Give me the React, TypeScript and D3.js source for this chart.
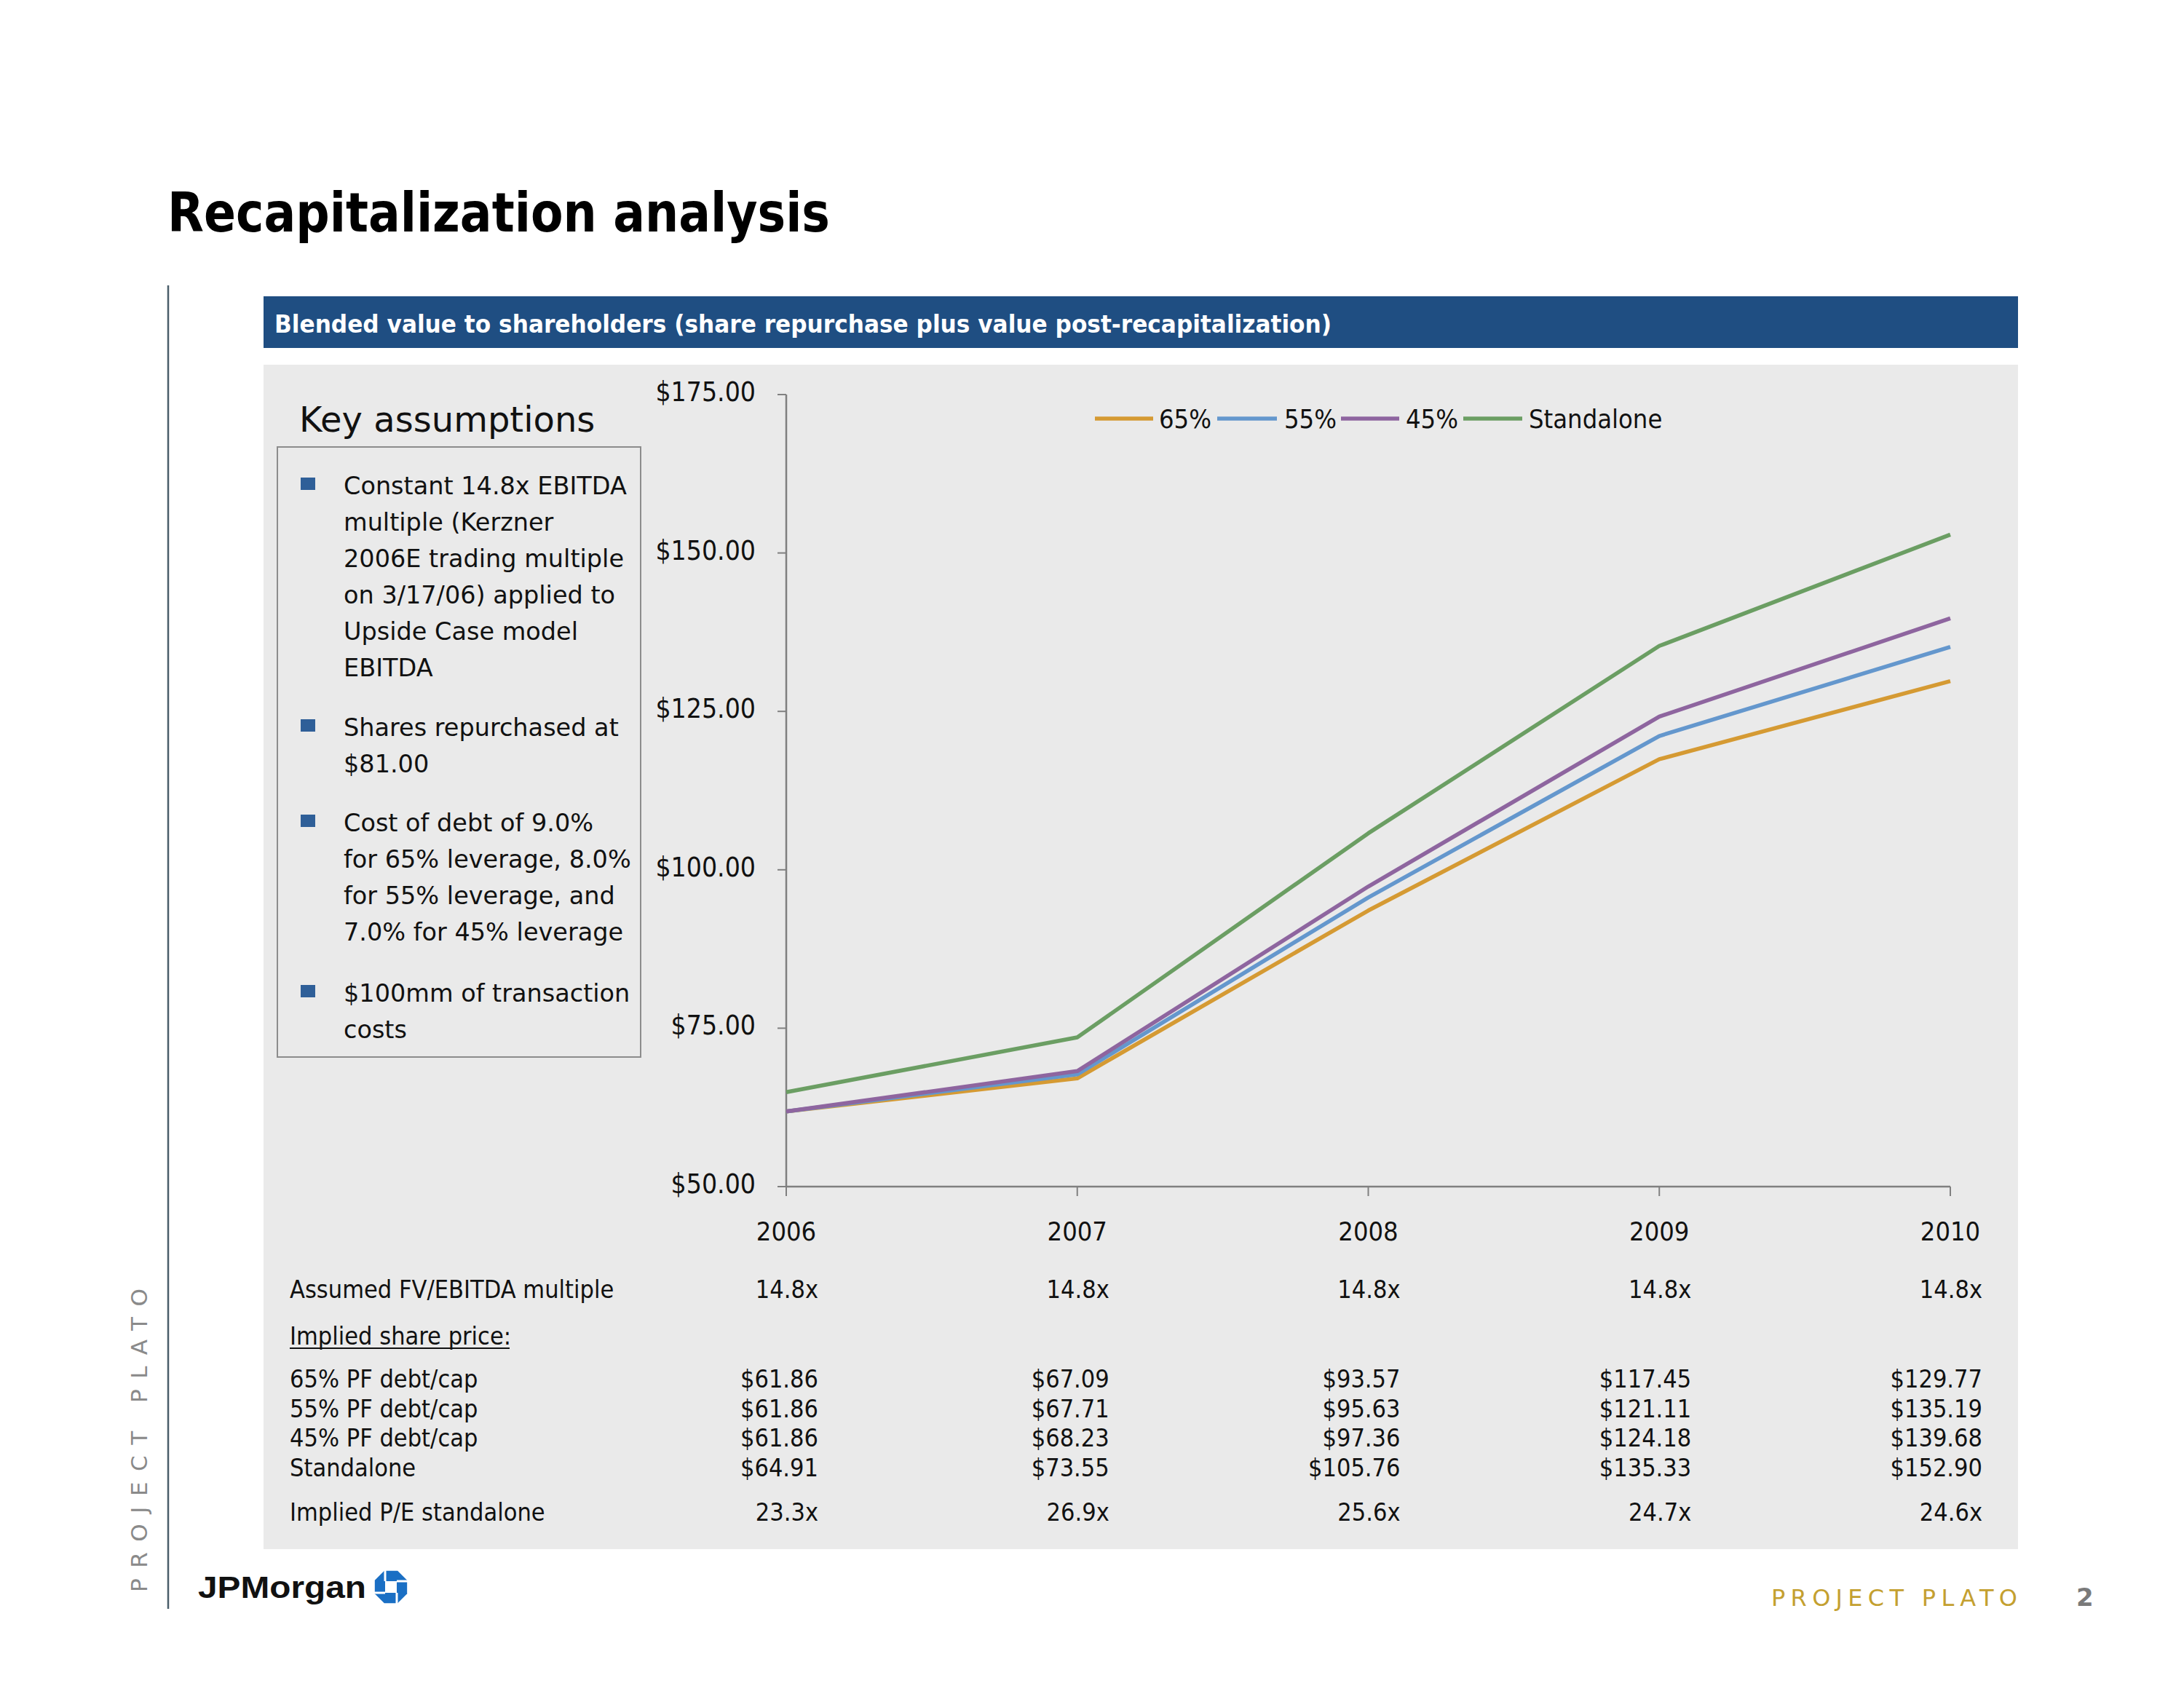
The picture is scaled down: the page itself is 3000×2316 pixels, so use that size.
import React from "react";
import * as d3 from "d3";

// ---------- data ----------
const years = [2006, 2007, 2008, 2009, 2010];
const seriesNames = ["65%", "55%", "45%", "Standalone"];
const values65 = [61.86, 67.09, 93.57, 117.45, 129.77];
const values55 = [61.86, 67.71, 95.63, 121.11, 135.19];
const values45 = [61.86, 68.23, 97.36, 124.18, 139.68];
const valuesStandalone = [64.91, 73.55, 105.76, 135.33, 152.9];
const fvEbitdaMultiples = [14.8, 14.8, 14.8, 14.8, 14.8];
const impliedPE = [23.3, 26.9, 25.6, 24.7, 24.6];
const yTicks = [50, 75, 100, 125, 150, 175];
const rowLabels = ["65% PF debt/cap", "55% PF debt/cap", "45% PF debt/cap", "Standalone"];
const bullets = [
  ["Constant 14.8x EBITDA", "multiple (Kerzner", "2006E trading multiple", "on 3/17/06) applied to", "Upside Case model", "EBITDA"],
  ["Shares repurchased at", "$81.00"],
  ["Cost of debt of 9.0%", "for 65% leverage, 8.0%", "for 55% leverage, and", "7.0% for 45% leverage"],
  ["$100mm of transaction", "costs"],
];

// ---------- styles ----------
const COLORS = ["#D59A33", "#6497CD", "#8E659F", "#6B9E63"];
const COND = "'DejaVu Sans Condensed', 'DejaVu Sans', sans-serif";
const SANS = "'DejaVu Sans', Verdana, sans-serif";
const condStyle: React.CSSProperties = { fontStretch: "condensed" };

export default function App() {
  const x = d3.scaleLinear().domain([2006, 2010]).range([1080, 2679]);
  const y = d3.scaleLinear().domain([50, 175]).range([1630, 542]);
  const line = d3
    .line<[number, number]>()
    .x((d) => x(d[0]))
    .y((d) => y(d[1]));
  const allSeries = [values65, values55, values45, valuesStandalone];
  const fmtDollar = d3.format("$,.2f");
  const fmtX = (v: number) => d3.format(".1f")(v) + "x";

  const bulletStarts = [679, 1011, 1142, 1376];
  const legendLayout = [
    { x1: 1504, x2: 1584, tx: 1592 },
    { x1: 1672, x2: 1754, tx: 1764 },
    { x1: 1842, x2: 1922, tx: 1931 },
    { x1: 2010, x2: 2091, tx: 2100 },
  ];

  const tableRows: { label: string; base: number; vals: string[] }[] = [
    { label: "Assumed FV/EBITDA multiple", base: 1783, vals: fvEbitdaMultiples.map(fmtX) },
    ...rowLabels.map((l, i) => ({
      label: l,
      base: [1906, 1947, 1987, 2028][i],
      vals: allSeries[i].map(fmtDollar),
    })),
    { label: "Implied P/E standalone", base: 2089, vals: impliedPE.map(fmtX) },
  ];

  return (
    <svg
      width={3000}
      height={2316}
      style={{ position: "absolute", left: 0, top: 0, background: "#fff" }}
    >
      <rect x={0} y={0} width={3000} height={2316} fill="#ffffff" />
      {/* title */}
      <text
        x={230}
        y={318}
        fontFamily={COND}
        style={condStyle}
        fontWeight="bold"
        fontSize={74}
        fill="#000"
        textLength={910}
        lengthAdjust="spacingAndGlyphs"
      >
        Recapitalization analysis
      </text>

      {/* left vertical rule and side text */}
      <line x1={231} x2={231} y1={392} y2={2210} stroke="#4A5E6A" strokeWidth={2.5} />
      <text
        transform="translate(202,2187) rotate(-90)"
        fontFamily={SANS}
        fontSize={31}
        fill="#8A8A8A"
        textLength={417}
        lengthAdjust="spacing"
      >
        PROJECT PLATO
      </text>

      {/* header bar */}
      <rect x={362} y={407} width={2410} height={71} fill="#1F4E82" />
      <text
        x={377}
        y={457}
        fontFamily={COND}
        style={condStyle}
        fontWeight="bold"
        fontSize={33}
        fill="#fff"
        textLength={1452}
        lengthAdjust="spacingAndGlyphs"
      >
        Blended value to shareholders (share repurchase plus value post-recapitalization)
      </text>

      {/* grey panel */}
      <rect x={362} y={501} width={2410} height={1627} fill="#EAEAEA" />

      {/* key assumptions */}
      <text x={411} y={593} fontFamily={SANS} fontSize={48} fill="#111">
        Key assumptions
      </text>
      <rect x={381} y={614} width={499} height={838} fill="none" stroke="#8C8C8C" strokeWidth={2} />
      {bullets.map((lines, bi) => (
        <g key={bi}>
          <rect x={413} y={bulletStarts[bi] - 23} width={20} height={17} fill="#2F5F98" />
          {lines.map((t, li) => (
            <text
              key={li}
              x={472}
              y={bulletStarts[bi] + li * 50}
              fontFamily={SANS}
              fontSize={33.5}
              fill="#111"
            >
              {t}
            </text>
          ))}
        </g>
      ))}

      {/* axes */}
      <line x1={1080} x2={1080} y1={y(175)} y2={y(50)} stroke="#808080" strokeWidth={2.5} />
      <line x1={x(2006)} x2={x(2010)} y1={y(50)} y2={y(50)} stroke="#808080" strokeWidth={2.5} />
      {yTicks.map((t) => (
        <g key={t}>
          <line x1={1068} x2={1080} y1={y(t)} y2={y(t)} stroke="#808080" strokeWidth={2} />
          <text
            x={1038}
            y={y(t) + 9}
            textAnchor="end"
            fontFamily={COND}
            style={condStyle}
            fontSize={37}
            fill="#111"
          >
            {fmtDollar(t)}
          </text>
        </g>
      ))}
      {years.map((yr) => (
        <g key={yr}>
          <line x1={x(yr)} x2={x(yr)} y1={y(50)} y2={y(50) + 13} stroke="#808080" strokeWidth={2} />
          <text
            x={x(yr)}
            y={1704}
            textAnchor="middle"
            fontFamily={COND}
            style={condStyle}
            fontSize={36}
            fill="#111"
          >
            {yr}
          </text>
        </g>
      ))}

      {/* series lines */}
      {allSeries.map((vals, i) => (
        <path
          key={seriesNames[i]}
          d={line(years.map((yr, j) => [yr, vals[j]] as [number, number])) || ""}
          fill="none"
          stroke={COLORS[i]}
          strokeWidth={5.5}
          strokeLinejoin="round"
        />
      ))}

      {/* legend */}
      {seriesNames.map((n, i) => (
        <g key={n}>
          <line
            x1={legendLayout[i].x1}
            x2={legendLayout[i].x2}
            y1={575}
            y2={575}
            stroke={COLORS[i]}
            strokeWidth={5.5}
          />
          <text
            x={legendLayout[i].tx}
            y={588}
            fontFamily={COND}
            style={condStyle}
            fontSize={36}
            fill="#111"
          >
            {n}
          </text>
        </g>
      ))}

      {/* data table */}
      {tableRows.map((r) => (
        <g key={r.label}>
          <text x={398} y={r.base} fontFamily={COND} style={condStyle} fontSize={34} fill="#111">
            {r.label}
          </text>
          {r.vals.map((v, j) => (
            <text
              key={j}
              x={x(years[j]) + 44}
              y={r.base}
              textAnchor="end"
              fontFamily={COND}
              style={condStyle}
              fontSize={34}
              fill="#111"
            >
              {v}
            </text>
          ))}
        </g>
      ))}
      <text x={398} y={1847} fontFamily={COND} style={condStyle} fontSize={34} fill="#111">
        Implied share price:
      </text>
      <line x1={398} x2={700} y1={1852} y2={1852} stroke="#111" strokeWidth={2} />

      {/* footer */}
      <text
        x={272}
        y={2195}
        fontFamily="'Liberation Sans', Arial, sans-serif"
        fontWeight="bold"
        fontSize={42}
        fill="#111"
        textLength={231}
        lengthAdjust="spacingAndGlyphs"
      >
        JPMorgan
      </text>
      <g transform="translate(537,2180)">
        <polygon
          points={d3
            .range(8)
            .map((k) => {
              const a = ((22.5 + k * 45) * Math.PI) / 180;
              return `${24 * Math.cos(a)},${24 * Math.sin(a)}`;
            })
            .join(" ")}
          fill="#1A6FC4"
        />
        <rect x={-8} y={-8} width={16} height={16} fill="#fff" />
        <line x1={-8} y1={-8} x2={-8} y2={-26} stroke="#fff" strokeWidth={3} />
        <line x1={8} y1={-8} x2={26} y2={-8} stroke="#fff" strokeWidth={3} />
        <line x1={8} y1={8} x2={8} y2={26} stroke="#fff" strokeWidth={3} />
        <line x1={-8} y1={8} x2={-26} y2={8} stroke="#fff" strokeWidth={3} />
      </g>
      <text
        x={2433}
        y={2206}
        fontFamily={SANS}
        fontSize={32}
        fill="#C4A030"
        textLength={338}
        lengthAdjust="spacing"
      >
        PROJECT PLATO
      </text>
      <text x={2852} y={2206} fontFamily={SANS} fontWeight="bold" fontSize={34} fill="#7A7A7A">
        2
      </text>
    </svg>
  );
}
